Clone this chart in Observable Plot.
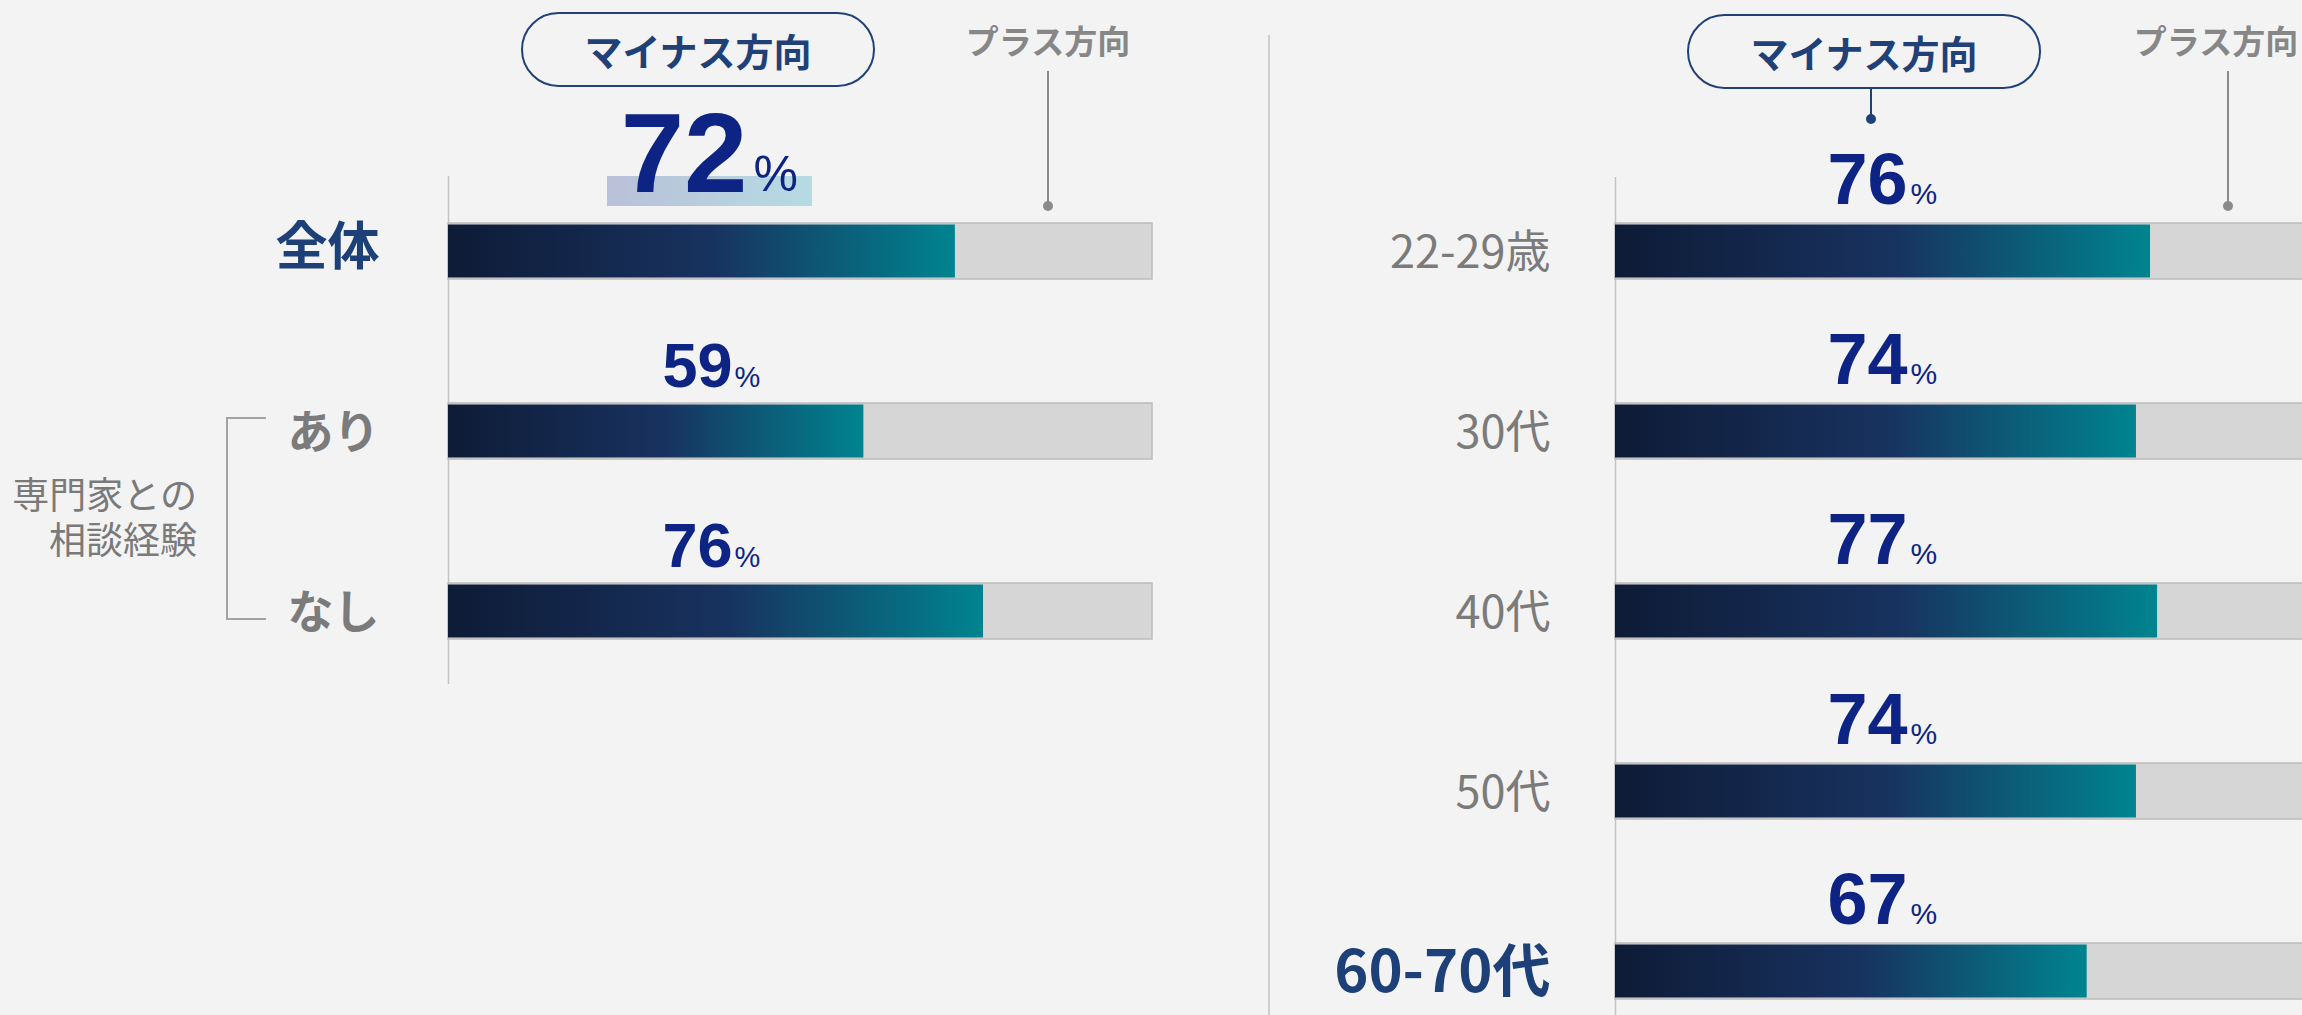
<!DOCTYPE html>
<html>
<head>
<meta charset="utf-8">
<script src="https://cdn.jsdelivr.net/npm/d3@7"></script>
<script src="https://cdn.jsdelivr.net/npm/@observablehq/plot@0.6"></script>
<style>
  html, body { margin: 0; padding: 0; background: #f3f3f3; overflow: hidden; }
  #stage { position: relative; width: 2302px; height: 1015px; overflow: hidden; background: #f3f3f3;
           font-family: "Noto Sans CJK JP", "Noto Sans", sans-serif; }
  #stage svg { position: absolute; top: 0; background: transparent !important; max-width: none !important; overflow: visible; }
  .abs { position: absolute; }
  .pill { position: absolute; box-sizing: border-box; border: 2px solid #1f4178; border-radius: 38px;
          display: flex; align-items: center; justify-content: center; color: #1f4178;
          font-weight: 700; font-size: 38px; line-height: 1; }
  .plus { position: absolute; width: 240px; text-align: center; color: #878787; font-weight: 700;
          font-size: 33px; line-height: 33px; white-space: nowrap; }
  .vline { position: absolute; width: 2px; }
  .dot { position: absolute; width: 10px; height: 10px; border-radius: 50%; }
  .group { position: absolute; text-align: right; color: #7a7a7a; font-size: 37px; line-height: 45px; white-space: pre; }
</style>
</head>
<body>
<div id="stage"></div>
<script>
// ---------- data ----------
const leftCategories = ["全体", "あり", "なし"];
const leftValues = [72, 59, 76];
const rightCategories = ["22-29歳", "30代", "40代", "50代", "60-70代"];
const rightValues = [76, 74, 77, 74, 67];
const emphasized = ["全体", "60-70代"];
const headlineCategory = "全体";
const groupLabelLines = ["専門家との", "相談経験"];
const minusLabel = "マイナス方向";
const plusLabel = "プラス方向";
const percentSign = "%";
const FULL = 100;

// ---------- helpers ----------
const JP = "Noto Sans CJK JP, Noto Sans, sans-serif";
const NUM = "Liberation Sans, Arial, Helvetica, sans-serif";
const NUM_COLOR = "#0d2484";
const EMPH_COLOR = "#1e4078";

function makeRows(cats, vals) { return cats.map((category, i) => ({category, value: vals[i]})); }

function gradientDefs(id) {
  return () => {
    const defs = d3.create("svg:defs");
    const g = defs.append("linearGradient").attr("id", id)
      .attr("x1", "0").attr("x2", "1").attr("y1", "0").attr("y2", "0");
    [["0%", "#0e1b36"], ["52%", "#18325f"], ["100%", "#00848f"]]
      .forEach(([o, c]) => g.append("stop").attr("offset", o).attr("stop-color", c));
    return defs.node();
  };
}

const BAND_PAD = 124 / 180;

function panel(cfg) {
  const rows = makeRows(cfg.categories, cfg.values);
  const big = rows.filter(d => d.category === cfg.headline);
  const small = rows.filter(d => d.category !== cfg.headline);
  const emph = rows.filter(d => emphasized.includes(d.category));
  const normal = rows.filter(d => !emphasized.includes(d.category));
  const n = cfg.categories.length;
  const svg = Plot.plot({
    width: cfg.width,
    height: 1015,
    marginLeft: cfg.marginLeft,
    marginRight: cfg.width - cfg.marginLeft - 704,
    marginTop: cfg.marginTop,
    marginBottom: cfg.marginBottom,
    style: {background: "transparent", overflow: "visible"},
    x: {domain: [0, FULL], axis: null},
    y: {type: "band", domain: cfg.categories, axis: null, round: false,
        paddingInner: BAND_PAD, paddingOuter: BAND_PAD,
        range: [99, 99 + 180 * (n + BAND_PAD)]},
    marks: [
      gradientDefs(cfg.gradId),
      Plot.ruleX([0], {stroke: "#c2c2c2", strokeWidth: 1.5}),
      Plot.barX(rows, {x: () => FULL, y: "category", fill: "#d6d6d6", stroke: "#bcbcbc", strokeWidth: 1.5}),
      Plot.barX(rows, {x: "value", y: "category", fill: `url(#${cfg.gradId})`, insetTop: 1.5, insetBottom: 1.5}),
      // value labels
      Plot.text(small, {y: "category", text: d => String(d.value), frameAnchor: "left",
        dx: cfg.numDx, dy: cfg.numDy, textAnchor: "end", lineAnchor: "bottom",
        fontSize: cfg.numSize, fontWeight: 700, fontFamily: NUM, fill: NUM_COLOR}),
      Plot.text(small, {y: "category", text: () => percentSign, frameAnchor: "left",
        dx: cfg.pctDx, dy: cfg.numDy, textAnchor: "start", lineAnchor: "bottom",
        fontSize: cfg.pctSize, fontWeight: 400, fontFamily: NUM, fill: NUM_COLOR}),
      Plot.text(big, {y: "category", text: d => String(d.value), frameAnchor: "left",
        dx: 299, dy: -60, textAnchor: "end", lineAnchor: "bottom",
        fontSize: 114, fontWeight: 700, fontFamily: NUM, fill: NUM_COLOR}),
      Plot.text(big, {y: "category", text: () => percentSign, frameAnchor: "left",
        dx: 305, dy: -61, textAnchor: "start", lineAnchor: "bottom",
        fontSize: 50, fontWeight: 400, fontFamily: NUM, fill: NUM_COLOR}),
      // category labels
      Plot.text(emph, {y: "category", text: "category", frameAnchor: "left", textAnchor: "end",
        dx: cfg.catDx, dy: cfg.emphDy, fontSize: cfg.emphSize, fontWeight: 700, fontFamily: JP, fill: EMPH_COLOR}),
      Plot.text(normal, {y: "category", text: "category", frameAnchor: "left", textAnchor: "end",
        dx: cfg.catDx, dy: cfg.normDy, fontSize: cfg.normSize, fontWeight: cfg.normWeight, fontFamily: JP, fill: "#7b7b7b"})
    ]
  });
  svg.style.left = cfg.left + "px";
  return svg;
}

const stage = document.getElementById("stage");

function addDiv(cls, style, text) {
  const el = document.createElement("div");
  el.className = cls;
  Object.assign(el.style, style);
  if (text !== undefined) el.textContent = text;
  stage.appendChild(el);
  return el;
}

// ---------- decorations (behind the charts) ----------
addDiv("vline", {left: "1268px", top: "35px", height: "990px", width: "1.5px", background: "#cfcfcf"});
addDiv("abs", {left: "607px", top: "176px", width: "205px", height: "30px",
  background: "linear-gradient(90deg, #bac0d8, #b5dbe4)"});

// ---------- charts ----------
stage.appendChild(panel({
  categories: leftCategories, values: leftValues, headline: headlineCategory,
  left: 0, width: 1268, marginLeft: 448, marginTop: 176, marginBottom: 331, gradId: "gradL",
  numDx: 284, pctDx: 286, numDy: -45, numSize: 63, pctSize: 29,
  catDx: -69, emphDy: -3, emphSize: 52, normDy: 2, normSize: 46, normWeight: 700
}));
stage.appendChild(panel({
  categories: rightCategories, values: rightValues, headline: null,
  left: 1268, width: 1060, marginLeft: 347, marginTop: 177, marginBottom: 0, gradId: "gradR",
  numDx: 292, pctDx: 295, numDy: -48, numSize: 72, pctSize: 30,
  catDx: -65, emphDy: 2, emphSize: 58, normDy: 2, normSize: 45, normWeight: 400
}));

// ---------- annotations ----------
addDiv("pill", {left: "521px", top: "12px", width: "354px", height: "75px"}, minusLabel);
addDiv("plus", {left: (1048 - 120) + "px", top: "24px"}, plusLabel);
addDiv("vline", {left: "1047px", top: "71px", height: "134px", background: "#8a8a8a"});
addDiv("dot", {left: "1043px", top: "201px", background: "#8a8a8a"});

addDiv("pill", {left: "1687px", top: "14px", width: "354px", height: "75px"}, minusLabel);
addDiv("vline", {left: "1870px", top: "89px", height: "30px", background: "#1f4178"});
addDiv("dot", {left: "1866px", top: "114px", background: "#1f4178"});
addDiv("plus", {left: (2216 - 120) + "px", top: "24px"}, plusLabel);
addDiv("vline", {left: "2227px", top: "71px", height: "134px", background: "#8a8a8a"});
addDiv("dot", {left: "2223px", top: "201px", background: "#8a8a8a"});

// group label + bracket
addDiv("group", {right: (2302 - 197) + "px", top: "471px"}, groupLabelLines.join("\n"));
addDiv("abs", {left: "226px", top: "417px", width: "40px", height: "203px",
  borderLeft: "2px solid #a2a2a2", borderTop: "2px solid #a2a2a2", borderBottom: "2px solid #a2a2a2",
  boxSizing: "border-box"});
</script>
</body>
</html>
